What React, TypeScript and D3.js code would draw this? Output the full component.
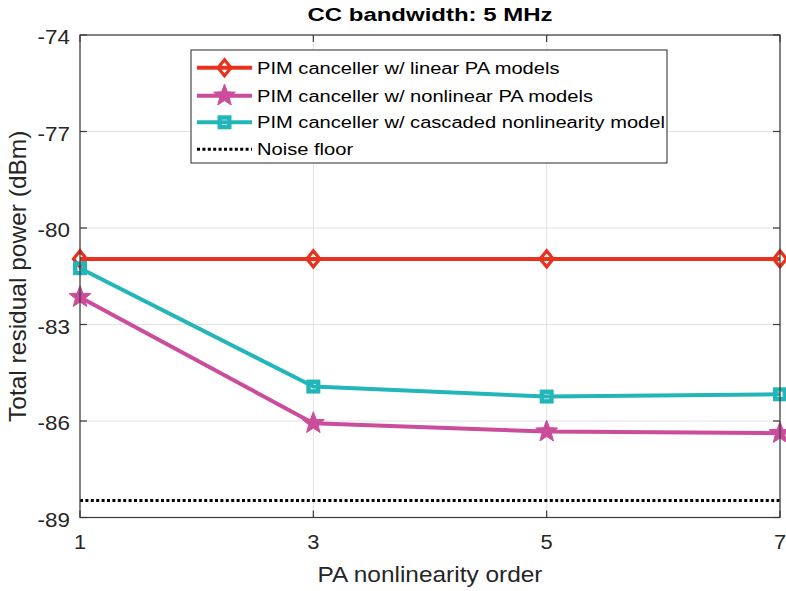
import React from "react";
import * as d3 from "d3";

const orders = [1, 3, 5, 7];
const linearPA = [-80.96, -80.96, -80.96, -80.96];
const nonlinearPA = [-82.15, -86.07, -86.33, -86.38];
const cascaded = [-81.25, -84.93, -85.24, -85.17];
const noiseFloor = -88.47;
const yTicks = [-74, -77, -80, -83, -86, -89];
const xTicks = [1, 3, 5, 7];
const legendLabels = [
  "PIM canceller w/ linear PA models",
  "PIM canceller w/ nonlinear PA models",
  "PIM canceller w/ cascaded nonlinearity model",
  "Noise floor",
];
const title = "CC bandwidth: 5 MHz";
const xLabel = "PA nonlinearity order";
const yLabel = "Total residual power (dBm)";

const RED = "#e6321e";
const MAG = "#cc4c9c";
const TEAL = "#22b6b9";
const FONT = "'Liberation Sans', Arial, Helvetica, sans-serif";

const W = 786, H = 591;
const L = 80, R = 780, T = 35, B = 517.5;

function starPath(cx: number, cy: number, r: number) {
  const pts: string[] = [];
  const ri = r * 0.42;
  for (let i = 0; i < 10; i++) {
    const a = -Math.PI / 2 + (i * Math.PI) / 5;
    const rr = i % 2 === 0 ? r : ri;
    pts.push(`${cx + rr * Math.cos(a)},${cy + rr * Math.sin(a)}`);
  }
  return "M" + pts.join("L") + "Z";
}

function Diamond({ cx, cy }: { cx: number; cy: number }) {
  const w = 6.5, h = 8;
  return (
    <path
      d={`M${cx},${cy - h}L${cx + w},${cy}L${cx},${cy + h}L${cx - w},${cy}Z`}
      fill="none"
      stroke={RED}
      strokeWidth={3.2}
    />
  );
}
function Star({ cx, cy }: { cx: number; cy: number }) {
  return <path d={starPath(cx, cy, 11.5)} fill={MAG} stroke={MAG} strokeWidth={1} />;
}
function Square({ cx, cy }: { cx: number; cy: number }) {
  const s = 4.8;
  return <rect x={cx - s} y={cy - s} width={2 * s} height={2 * s} fill="none" stroke={TEAL} strokeWidth={4.4} />;
}

export default function App() {
  const x = d3.scaleLinear().domain([1, 7]).range([L, R]);
  const y = d3.scaleLinear().domain([-89, -74]).range([B, T]);
  const line = d3
    .line<number>()
    .x((_, i) => x(orders[i]))
    .y((d) => y(d));

  const series = [
    { data: linearPA, color: RED, M: Diamond },
    { data: cascaded, color: TEAL, M: Square },
    { data: nonlinearPA, color: MAG, M: Star },
  ];

  const legendX = 191, legendY = 50, legendW = 476, legendH = 113;
  const legendRows = [67.7, 95.7, 122.3, 149.3];
  const legendMarkers = [Diamond, Star, Square, null];
  const legendColors = [RED, MAG, TEAL, "#000"];

  return (
    <svg
      width={W}
      height={H}
      style={{ position: "fixed", left: 0, top: 0, background: "#fff" }}
      fontFamily={FONT}
    >
      <rect x={0} y={0} width={W} height={H} fill="#fff" />
      {/* grid */}
      <g stroke="#e3e3e3" strokeWidth={1}>
        {yTicks.map((t) => (
          <line key={"gy" + t} x1={L} x2={R} y1={y(t)} y2={y(t)} />
        ))}
        {xTicks.map((t) => (
          <line key={"gx" + t} x1={x(t)} x2={x(t)} y1={T} y2={B} />
        ))}
      </g>
      {/* noise floor */}
      <line
        x1={L}
        x2={R}
        y1={y(noiseFloor)}
        y2={y(noiseFloor)}
        stroke="#000"
        strokeWidth={3}
        strokeDasharray="3 2.4"
      />
      {/* series */}
      {series.map((s, i) => (
        <g key={"s" + i}>
          <path d={line(s.data) || ""} fill="none" stroke={s.color} strokeWidth={4} strokeLinejoin="round" />
          {s.data.map((v, j) => (
            <s.M key={j} cx={x(orders[j])} cy={y(v)} />
          ))}
        </g>
      ))}
      {/* axes box */}
      <g stroke="#3a3a3a" strokeWidth={1.2} fill="none">
        <rect x={L} y={T} width={R - L} height={B - T} />
        {yTicks.map((t) => (
          <g key={"ty" + t}>
            <line x1={L} x2={L + 7} y1={y(t)} y2={y(t)} />
            <line x1={R} x2={R - 7} y1={y(t)} y2={y(t)} />
          </g>
        ))}
        {xTicks.map((t) => (
          <g key={"tx" + t}>
            <line x1={x(t)} x2={x(t)} y1={B} y2={B - 7} />
            <line x1={x(t)} x2={x(t)} y1={T} y2={T + 7} />
          </g>
        ))}
      </g>
      {/* tick labels */}
      <g fill="#262626" fontSize={19.5}>
        {yTicks.map((t) => (
          <text
            key={"ly" + t}
            transform={`translate(70,${y(t) + 4}) scale(1.15,1)`}
            textAnchor="end"
            dominantBaseline="middle"
          >
            {String(t)}
          </text>
        ))}
        {xTicks.map((t) => (
          <text
            key={"lx" + t}
            transform={`translate(${x(t)},${549}) scale(1.12,1)`}
            textAnchor="middle"
          >
            {String(t)}
          </text>
        ))}
      </g>
      {/* axis labels */}
      <text
        transform={`translate(${(L + R) / 2},582) scale(1.096,1)`}
        textAnchor="middle"
        fontSize={22.3}
        fill="#262626"
      >
        {xLabel}
      </text>
      <text
        transform={`translate(26,${(T + B) / 2}) rotate(-90)`}
        textAnchor="middle"
        fontSize={24.5}
        fill="#262626"
      >
        {yLabel}
      </text>
      {/* title */}
      <text
        transform={`translate(${(L + R) / 2},21) scale(1.25,1)`}
        textAnchor="middle"
        fontSize={19.2}
        fontWeight="bold"
        fill="#000"
      >
        {title}
      </text>
      {/* legend */}
      <rect x={legendX} y={legendY} width={legendW} height={legendH} fill="#fff" stroke="#262626" strokeWidth={1} />
      {legendLabels.map((lab, i) => {
        const cy = legendRows[i];
        const M = legendMarkers[i];
        return (
          <g key={"lg" + i}>
            {i < 3 ? (
              <line x1={197} x2={252} y1={cy} y2={cy} stroke={legendColors[i]} strokeWidth={4} />
            ) : (
              <line x1={197} x2={252} y1={cy} y2={cy} stroke="#000" strokeWidth={3} strokeDasharray="3 2.4" />
            )}
            {M ? <M cx={224.5} cy={cy} /> : null}
            <text
              transform={`translate(257,${cy + 6}) scale(1.163,1)`}
              fontSize={17.3}
              fill="#000"
            >
              {lab}
            </text>
          </g>
        );
      })}
    </svg>
  );
}
